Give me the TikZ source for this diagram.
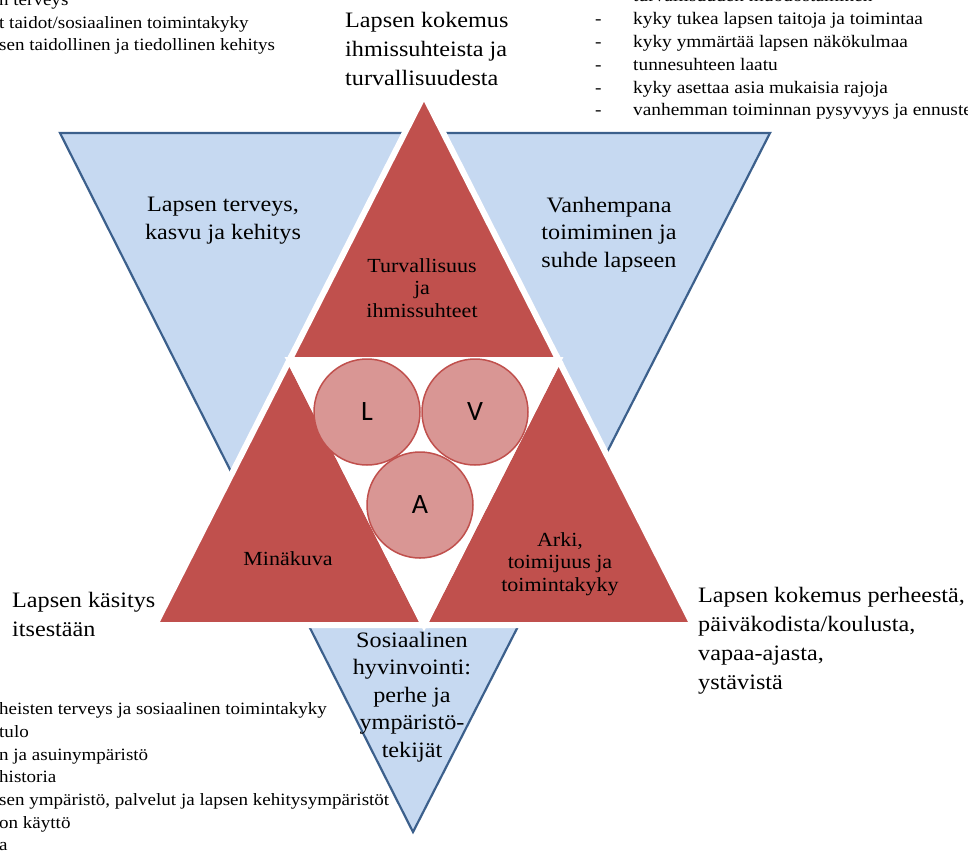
\documentclass[tikz,border=0pt]{standalone}
\usepackage{fontspec}
\setmainfont{Liberation Serif}[FakeStretch=1.1]
\newfontfamily\lettersfont{Carlito}
\definecolor{redfill}{RGB}{192,80,77}
\definecolor{circfill}{RGB}{217,150,148}
\definecolor{bluefill}{RGB}{198,217,241}
\definecolor{blueline}{RGB}{60,96,140}
\begin{document}
\begin{tikzpicture}[x=1pt,y=-1pt,
  bluetri/.style={fill=bluefill,draw=blueline,line width=2.2pt,line join=miter},
  redtri/.style={fill=redfill,draw=white,line width=6pt,line join=miter},
  centretri/.style={fill=white,draw=white,line width=6pt,line join=miter},
  circ/.style={circle,fill=circfill,draw=redfill,line width=1.5pt,minimum size=106pt,inner sep=0pt,font=\lettersfont\fontsize{28}{28}\selectfont},
  biglabel/.style={font=\fontsize{22}{27.5}\selectfont,align=center,inner sep=0pt,anchor=north},
  outlabel/.style={font=\fontsize{22}{29}\selectfont,align=left,inner sep=0pt,anchor=north west},
  redlabel/.style={font=\fontsize{20}{22.5}\selectfont,align=center,inner sep=0pt,anchor=north},
  listtext/.style={font=\fontsize{17.3}{22.7}\selectfont,align=left,inner sep=0pt,anchor=north west},
  widelist/.style={font=\fontsize{17.6}{22.8}\selectfont,align=left,inner sep=0pt,anchor=north west},
]
\useasboundingbox (0,0) rectangle (968,852);
\clip (0,0) rectangle (968,852);

% coordinates
\coordinate (BTL) at (60,133);
\coordinate (BTR) at (770,133);
\coordinate (BB) at (413,832);
\coordinate (P) at (424,95);
\coordinate (BL) at (155,625);
\coordinate (BR) at (693,625);
\coordinate (ML) at (289.5,360);
\coordinate (MR) at (558.5,360);
\coordinate (MB) at (424,625);

% blue inverted triangle
\path[bluetri] (BTL) -- (BTR) -- (BB) -- cycle;

% red sub-triangles
\path[redtri] (P) -- (ML) -- (MR) -- cycle;
\path[redtri] (ML) -- (BL) -- (MB) -- cycle;
\path[redtri] (MR) -- (MB) -- (BR) -- cycle;
\path[centretri] (ML) -- (MR) -- (MB) -- cycle;

% circles
\node[circ] (cL) at (367,412) {L};
\node[circ] (cV) at (475,412) {V};
\node[circ] (cA) at (420,505) {A};

% labels inside blue
\node[biglabel] (health) at (223,197) {Lapsen terveys,\\kasvu ja kehitys};
\node[biglabel] (parent) at (609,197) {Vanhempana\\toimiminen ja\\suhde lapseen};
\node[biglabel] (social) at (412,632) {Sosiaalinen\\hyvinvointi:\\perhe ja\\ympäristö-\\tekijät};

% labels inside red
\node[redlabel] (safety) at (422,258) {Turvallisuus\\ja\\ihmissuhteet};
\node[redlabel,anchor=center] (self) at (288,559) {Minäkuva};
\node[redlabel] (daily) at (560,532) {Arki,\\toimijuus ja\\toimintakyky};

% outer labels
\node[outlabel] (topout) at (345,12) {Lapsen kokemus\\ihmissuhteista ja\\turvallisuudesta};
\node[outlabel] (leftout) at (12,592) {Lapsen käsitys\\itsestään};
\node[outlabel] (rightout) at (698,587) {Lapsen kokemus perheestä,\\päiväkodista/koulusta,\\vapaa-ajasta,\\ystävistä};

% lists
\node[listtext] (toplist) at (-1,-4.5) {n terveys\\t taidot/sosiaalinen toimintakyky\\sen taidollinen ja tiedollinen kehitys};
\node[widelist] (rightlist) at (595,-10.5) {\makebox[38pt][l]{-}turvallisuuden muodostaminen\\
\makebox[38pt][l]{-}kyky tukea lapsen taitoja ja toimintaa\\
\makebox[38pt][l]{-}kyky ymmärtää lapsen näkökulmaa\\
\makebox[38pt][l]{-}tunnesuhteen laatu\\
\makebox[38pt][l]{-}kyky asettaa asia mukaisia rajoja\\
\makebox[38pt][l]{-}vanhemman toiminnan pysyvyys ja ennustettavuus};
\node[listtext] (bottomlist) at (-1,702.5) {heisten terveys ja sosiaalinen toimintakyky\\tulo\\n ja asuinympäristö\\historia\\sen ympäristö, palvelut ja lapsen kehitysympäristöt\\on käyttö\\a};
\end{tikzpicture}
\end{document}
